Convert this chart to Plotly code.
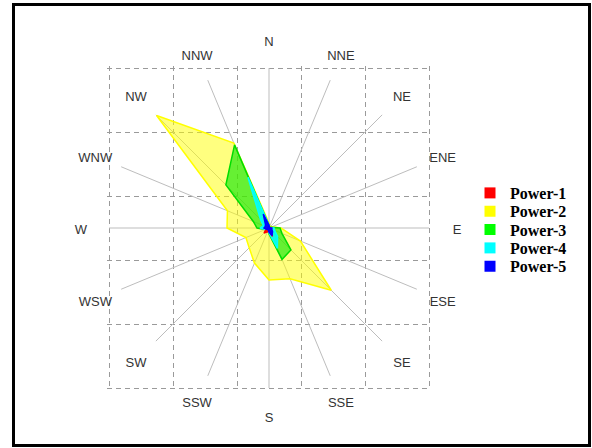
import plotly.graph_objects as go

directions = ["N", "NNE", "NE", "ENE", "E", "ESE", "SE", "SSE",
              "S", "SSW", "SW", "WSW", "W", "WNW", "NW", "NNW"]

power1 = [0.1, 0.1, 0.1, 0.1, 0.2, 0.2, 0.3, 0.9, 0.3, 0.4, 0.7, 0.3, 0.2, 0.1, 0.1, 0.2]
power2 = [0.5, 0.2, 0.2, 0.3, 1.2, 3.4, 8.8, 5.5, 5.2, 3.8, 2.8, 2.5, 4.2, 4.5, 15.9, 9.2]
power3 = [0.3, 0.1, 0.1, 0.2, 1.1, 1.4, 3.1, 3.4, 0.6, 0.3, 0.3, 0.4, 1.2, 1.7, 6.1, 9.0]
power4 = [0.3, 0.1, 0.1, 0.1, 0.5, 0.6, 1.2, 2.2, 0.5, 0.3, 0.3, 0.4, 0.9, 0.6, 1.2, 5.5]
power5 = [0.3, 0.1, 0.1, 0.1, 0.3, 0.3, 0.5, 0.8, 0.4, 0.2, 0.2, 0.3, 0.5, 0.4, 0.5, 1.5]

series_names = ["Power-1", "Power-2", "Power-3", "Power-4", "Power-5"]
series_values = [power1, power2, power3, power4, power5]
line_colors = ["#ff0000", "#ffff00", "#00dd00", "#00ffff", "#0000ff"]
legend_colors = ["#ff0000", "#ffff00", "#00ff00", "#00ffff", "#0000ff"]
fill_colors = ["rgba(255,0,0,0.9)", "rgba(255,255,0,0.5)", "rgba(0,230,0,0.6)",
               "rgba(0,255,255,0.85)", "rgba(0,0,255,0.95)"]
draw_order = [1, 2, 3, 0, 4]

R_MAX = 16          # radial range shown (spokes end here)
LABEL_R = 18.8      # radius at which the direction labels are centred
LABEL_RANGE = 20    # radial range of the label ring subplot

fig = go.Figure()

# empty trace so the cartesian (square dashed grid) subplot is drawn
fig.add_trace(go.Scatter(x=[], y=[], showlegend=False, hoverinfo="skip"))

for i in draw_order:
    vals = series_values[i]
    fig.add_trace(go.Scatterpolar(
        r=vals + vals[:1],
        theta=directions + directions[:1],
        mode="lines",
        fill="toself",
        fillcolor=fill_colors[i],
        line=dict(color=line_colors[i], width=1.5),
        showlegend=False,
        hoverinfo="skip",
    ))

# direction labels, centred outside the spokes (on a concentric, larger polar ring)
fig.add_trace(go.Scatterpolar(
    r=[LABEL_R] * len(directions),
    theta=directions,
    mode="text",
    text=directions,
    textposition="middle center",
    textfont=dict(family="Arial, Liberation Sans, sans-serif", size=13, color="#333333"),
    subplot="polar2",
    showlegend=False,
    hoverinfo="skip",
))

legend_font = dict(family="Times New Roman, Liberation Serif, serif", size=16,
                   color="black", weight="bold")
legend_ids = ["legend", "legend2", "legend3", "legend4", "legend5"]
legend_centers_px = [193, 211.3, 229.6, 248, 266.3]

# legend entries as square markers, one small legend per entry
for i, name in enumerate(series_names):
    fig.add_trace(go.Scatterpolar(
        r=[None], theta=[directions[0]],
        mode="markers",
        marker=dict(symbol="square", size=11, color=legend_colors[i]),
        name=name,
        legend=legend_ids[i],
    ))

legend_layouts = {}
for i, lid in enumerate(legend_ids):
    legend_layouts[lid] = dict(
        x=470 / 592, xanchor="left",
        y=1 - legend_centers_px[i] / 448, yanchor="middle",
        font=legend_font, bgcolor="rgba(0,0,0,0)", borderwidth=0,
    )

W, H = 592, 448
cx, cy = 269, 228          # centre of the rose (pixels from top-left)
label_cy = cy + 2.5        # label ring centre (compensates text baseline)
half = 160                 # spoke length in pixels
pad = 0.03                 # keeps the outer dashed lines inside the axis range
cell = 2 * half / 5
dom_x = [(cx - half - pad * cell) / W, (cx + half + pad * cell) / W]
dom_y = [(H - cy - half - pad * cell) / H, (H - cy + half + pad * cell) / H]
pdom_x = [(cx - half) / W, (cx + half) / W]
pdom_y = [(H - cy - half) / H, (H - cy + half) / H]
lhalf = half * LABEL_RANGE / R_MAX
ldom_x = [(cx - lhalf) / W, (cx + lhalf) / W]
ldom_y = [(H - label_cy - lhalf) / H, (H - label_cy + lhalf) / H]

grid_style = dict(range=[-pad, 5 + pad], dtick=1, tick0=0, showgrid=True,
                  gridcolor="#9a9a9a", gridwidth=1, griddash="5px,4px",
                  zeroline=False, showticklabels=False, showline=False,
                  ticks="", fixedrange=True)

angular_common = dict(type="category", categoryarray=directions,
                      direction="clockwise", rotation=90, showline=False,
                      ticks="", showticklabels=False)

fig.update_layout(
    width=W, height=H,
    margin=dict(l=0, r=0, t=0, b=0),
    paper_bgcolor="white",
    plot_bgcolor="rgba(0,0,0,0)",
    xaxis=dict(domain=dom_x, **grid_style),
    yaxis=dict(domain=dom_y, **grid_style),
    polar=dict(
        domain=dict(x=pdom_x, y=pdom_y),
        bgcolor="rgba(0,0,0,0)",
        radialaxis=dict(visible=False, range=[0, R_MAX]),
        angularaxis=dict(showgrid=True, gridcolor="#bdbdbd", gridwidth=1, **angular_common),
    ),
    polar2=dict(
        domain=dict(x=ldom_x, y=ldom_y),
        bgcolor="rgba(0,0,0,0)",
        radialaxis=dict(visible=False, range=[0, LABEL_RANGE]),
        angularaxis=dict(showgrid=False, **angular_common),
    ),
    shapes=[dict(type="rect", xref="paper", yref="paper",
                 x0=13.5 / W, x1=589.5 / W,
                 y0=2.5 / H, y1=443.5 / H,
                 line=dict(color="black", width=3))],
    **legend_layouts,
)

fig.write_html("out.html",
               config={"displayModeBar": False},
               post_script="document.body.style.margin='0';document.body.style.overflow='hidden';")
